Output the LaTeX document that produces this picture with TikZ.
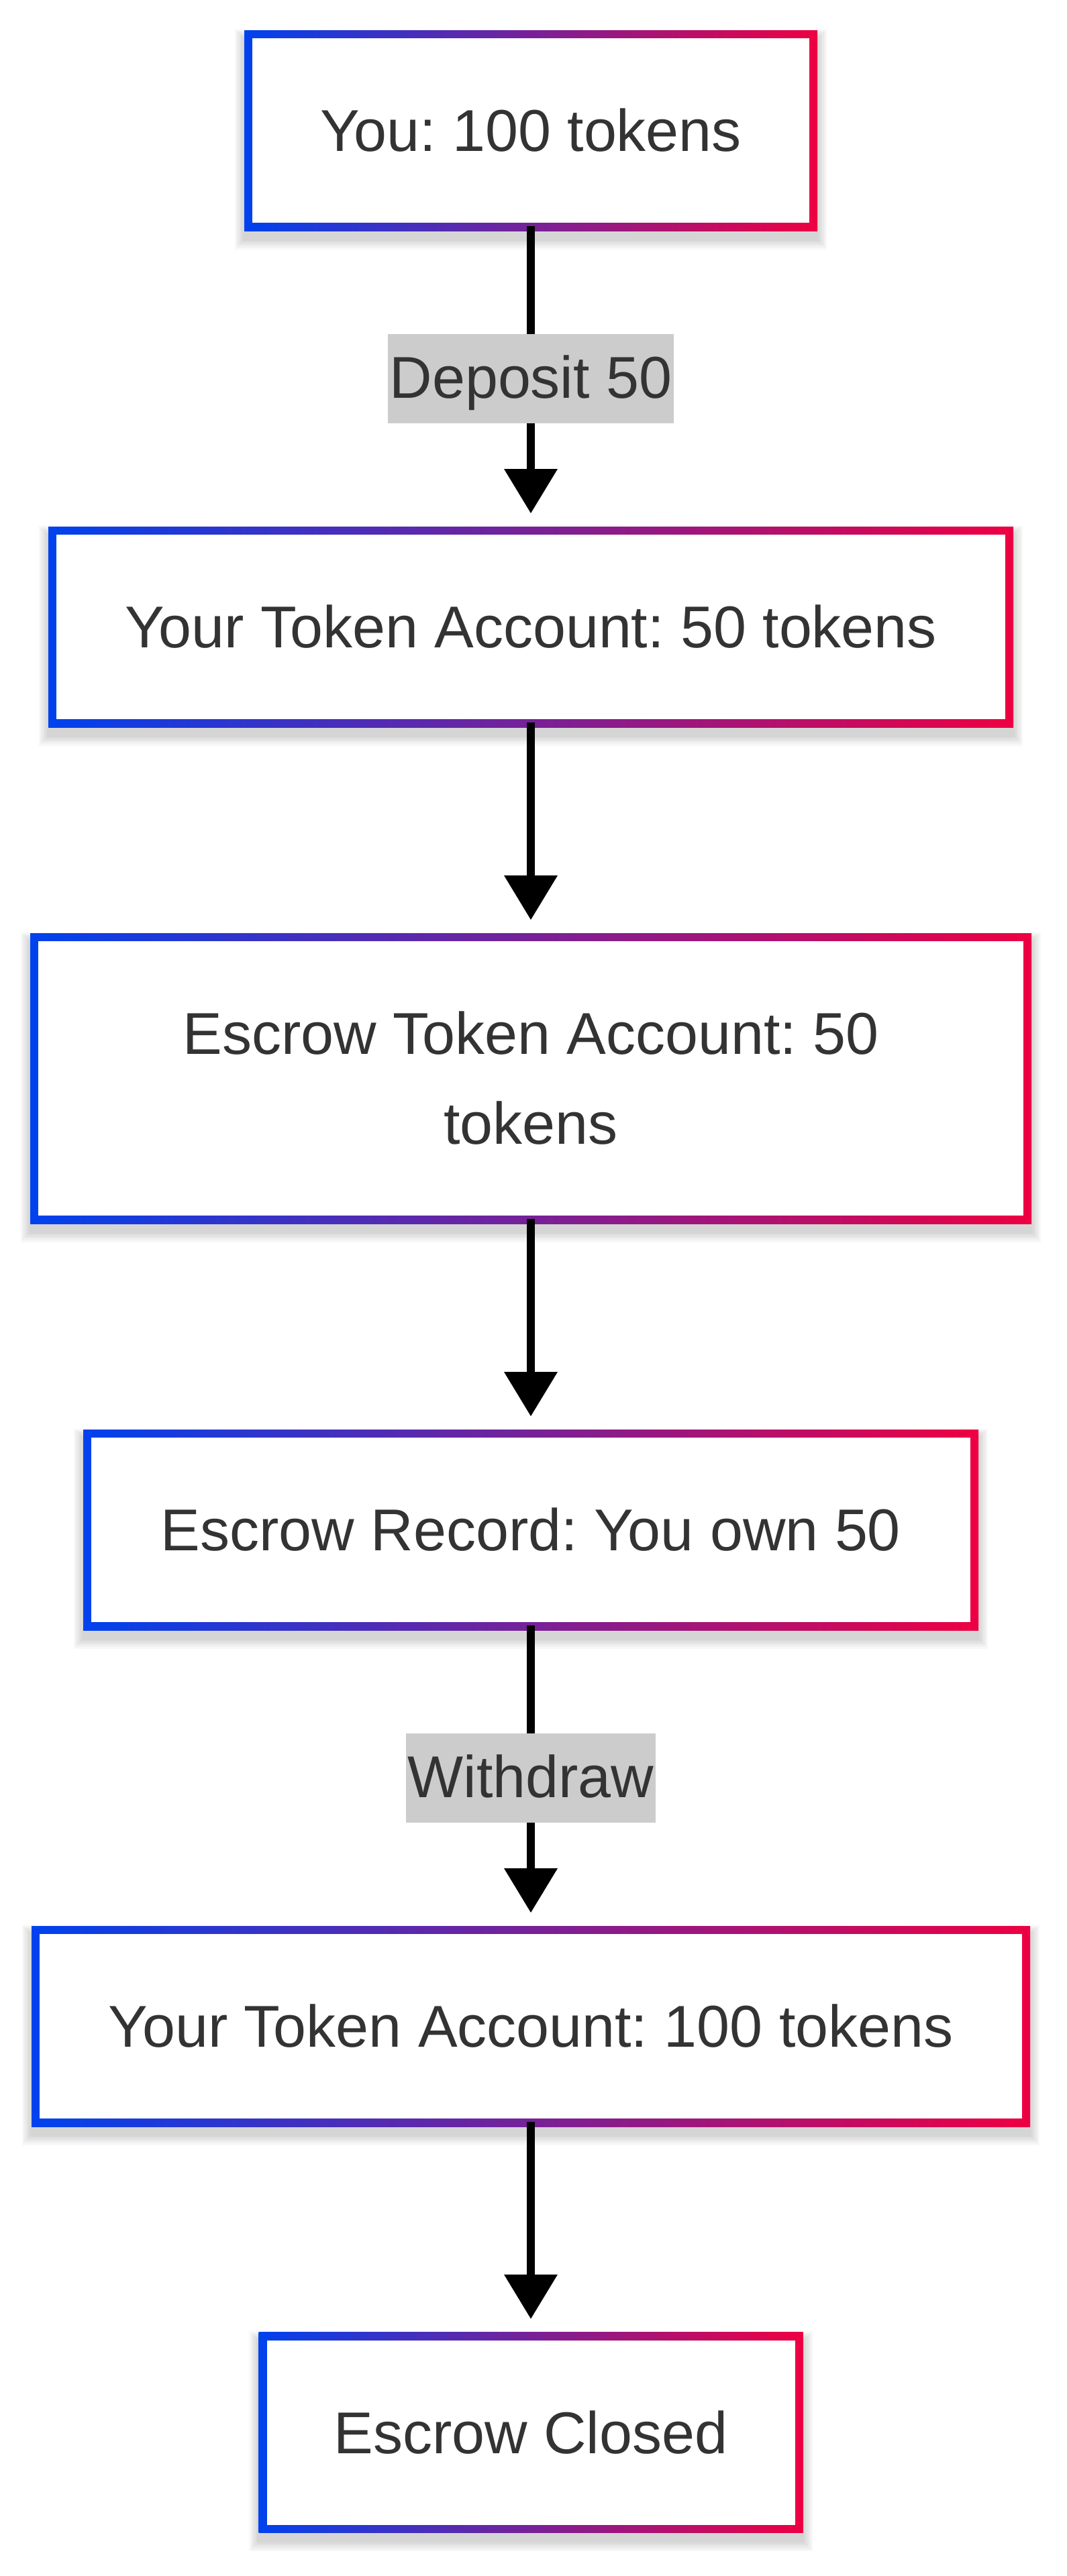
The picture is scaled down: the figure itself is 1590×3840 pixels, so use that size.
\documentclass[tikz,border=0pt]{standalone}
\usepackage{fontspec}
\setmainfont{Liberation Sans}
\usetikzlibrary{arrows.meta,backgrounds,calc}

\definecolor{edgeblue}{RGB}{0,66,238}
\definecolor{edgered}{RGB}{238,0,66}
\definecolor{ink}{HTML}{333333}
\definecolor{tagbg}{HTML}{CCCCCC}

\tikzset{
  stepbox/.style={minimum height=149.5pt, inner sep=0pt, outer sep=0pt,
    text=ink, font=\fontsize{44}{67}\selectfont, align=center},
  tag/.style={fill=tagbg, text=ink, font=\fontsize{44}{67}\selectfont,
    inner xsep=1.5pt, inner ysep=0pt, text height=47.5pt, text depth=19pt},
  flow/.style={line width=6pt, draw=black,
    -{Triangle[length=33pt,width=40pt,line width=0pt]},
    shorten <=-3.5pt, shorten >=10pt},
}

% soft drop shadow, gradient frame and white face behind a step node
\newcommand\gradframe[1]{%
  \foreach \k in {1,...,6}{%
    \fill[black, opacity=0.028]
      ([shift={(-\k*1.2pt,-6pt-\k*1.3pt)}]#1.south west) rectangle
      ([shift={(\k*1.2pt,-6pt+\k*1.1pt)}]#1.north east);}%
  \shade[left color=edgeblue, right color=edgered]
    (#1.south west) rectangle (#1.north east);
  \fill[white] ([shift={(6pt,6pt)}]#1.south west) rectangle
    ([shift={(-6pt,-6pt)}]#1.north east);
}

\begin{document}
\frenchspacing
\begin{tikzpicture}[x=0.5pt, y=-0.5pt]
  \useasboundingbox (0,0) rectangle (1590,3840);

  \node[stepbox, minimum width=427pt]   (n1) at (791,194.5)  {You: 100 tokens};
  \node[stepbox, minimum width=719pt]   (n2) at (791,934.5)  {Your Token Account: 50 tokens};
  \node[stepbox, minimum width=746pt, minimum height=216.5pt]
                                         (n3) at (791,1607.5) {Escrow Token Account: 50\\tokens};
  \node[stepbox, minimum width=667pt]   (n4) at (791,2280.5) {Escrow Record: You own 50};
  \node[stepbox, minimum width=744pt]   (n5) at (791,3020.5) {Your Token Account: 100 tokens};
  \node[stepbox, minimum width=405.5pt] (n6) at (791,3626)   {Escrow Closed};

  \begin{scope}[on background layer]
    \fill[white] (0,0) rectangle (1590,3840);
    \gradframe{n1}
    \gradframe{n2}
    \gradframe{n3}
    \gradframe{n4}
    \gradframe{n5}
    \gradframe{n6}
  \end{scope}

  \draw[flow] (n1.south) -- node[tag] (t1) {Deposit 50} (n2.north);
  \draw[flow] (n2.south) -- (n3.north);
  \draw[flow] (n3.south) -- (n4.north);
  \draw[flow] (n4.south) -- node[tag] (t2) {Withdraw} (n5.north);
  \draw[flow] (n5.south) -- (n6.north);
\end{tikzpicture}
\end{document}
